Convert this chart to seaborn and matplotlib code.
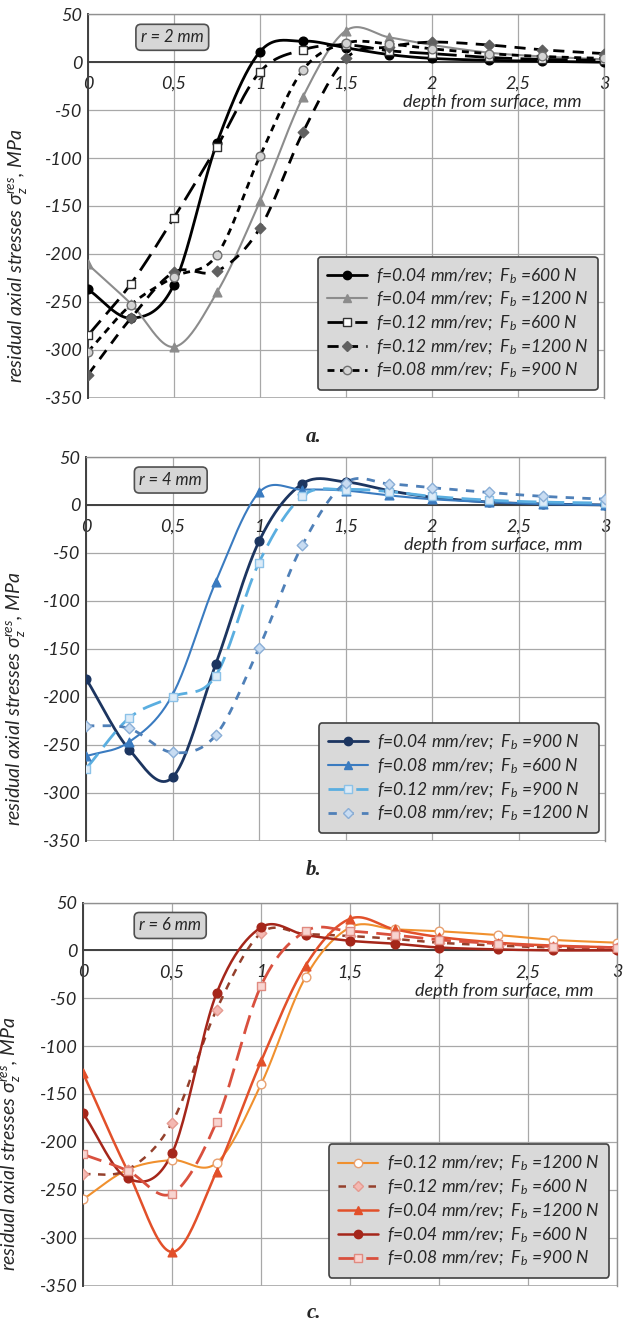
# Residual axial stresses vs depth, three tool radii (r = 2, 4, 6 mm)

import numpy as np
import seaborn as sns
import matplotlib.pyplot as plt
from matplotlib.lines import Line2D

sns.set_theme(style='white')
plt.rcParams['font.family'] = ['Lato', 'DejaVu Sans']
plt.rcParams['font.style'] = 'italic'
plt.rcParams['mathtext.default'] = 'regular'
plt.rcParams['mathtext.fontset'] = 'dejavusans'
plt.rcParams['axes.unicode_minus'] = False

# depth of measurement points, mm
depth = [0, 0.25, 0.5, 0.75, 1.0, 1.25, 1.5, 1.75, 2.0, 2.33, 2.64, 3.0]

# panel a, r = 2 mm
a_f004_600 = [-237, -267, -232, -84, 11, 22, 15, 8, 4, 2, 1, 0]
a_f004_1200 = [-211, -252, -297, -240, -145, -36, 33, 26, 18, 10, 6, 3]
a_f012_600 = [-285, -231, -162, -88, -10, 13, 18, 12, 9, 5, 3, 2]
a_f012_1200 = [-326, -267, -219, -218, -173, -73, 4, 16, 21, 18, 13, 9]
a_f008_900 = [-302, -253, -224, -201, -98, -8, 20, 19, 14, 9, 6, 4]

# panel b, r = 4 mm
b_f004_900 = [-181, -255, -284, -166, -38, 22, 24, 15, 8, 3, 1, 0]
b_f008_600 = [-262, -247, -198, -80, 13, 16, 15, 10, 6, 3, 1, 0]
b_f012_900 = [-275, -222, -200, -178, -60, 9, 16, 14, 9, 5, 3, 2]
b_f008_1200 = [-230, -233, -258, -240, -149, -42, 23, 22, 18, 13, 9, 6]

# panel c, r = 6 mm
c_f012_1200 = [-260, -229, -219, -222, -140, -28, 24, 22, 20, 16, 11, 8]
c_f012_600 = [-234, -229, -180, -62, 18, 17, 15, 12, 8, 5, 3, 2]
c_f004_1200 = [-128, -230, -315, -231, -116, -16, 33, 22, 14, 8, 5, 3]
c_f004_600 = [-170, -238, -212, -45, 24, 16, 10, 7, 3, 1, 0, 0]
c_f008_900 = [-213, -230, -254, -179, -37, 20, 20, 16, 11, 7, 4, 3]


def smooth(x, y, n=24):
    # Catmull-Rom curve through the points, like Excel's smoothed line
    P = np.column_stack([x, y]).astype(float)
    P = np.vstack([2 * P[0] - P[1], P, 2 * P[-1] - P[-2]])
    t = np.linspace(0, 1, n, endpoint=False)[:, None]
    segs = []
    for i in range(1, len(P) - 2):
        p0, p1, p2, p3 = P[i - 1], P[i], P[i + 1], P[i + 2]
        segs.append(0.5 * (2 * p1 + (p2 - p0) * t
                           + (2 * p0 - 5 * p1 + 4 * p2 - p3) * t ** 2
                           + (3 * p1 - p0 - 3 * p2 + p3) * t ** 3))
    segs.append(P[-2][None, :])
    return np.vstack(segs)


def lbl(f, fb):
    return f'f={f} mm/rev;  F$_b$ ={fb} N'


panels = [
    dict(name='a.', r='r = 2 mm', pos=[88, 14.3, 604, 397.7], cap=437,
         leg=(0.988, 0.02), series=[
        (a_f004_600, lbl('0.04', 600), '#000000', '-', 2.0, 'o', '#000000', '#000000', 7),
        (a_f004_1200, lbl('0.04', 1200), '#8c8c8c', '-', 1.5, '^', '#8c8c8c', '#8c8c8c', 7),
        (a_f012_600, lbl('0.12', 600), '#000000', (0, (7, 3)), 2.0, 's', '#ffffff', '#303030', 7),
        (a_f012_1200, lbl('0.12', 1200), '#000000', (0, (4, 3)), 2.0, 'D', '#606060', '#606060', 6),
        (a_f008_900, lbl('0.08', 900), '#000000', (0, (2.5, 2)), 2.0, 'o', '#d4d4d4', '#707070', 7),
    ]),
    dict(name='b.', r='r = 4 mm', pos=[86, 457, 605, 840.7], cap=870,
         leg=(0.988, 0.02), series=[
        (b_f004_900, lbl('0.04', 900), '#1c3560', '-', 2.0, 'o', '#1c3560', '#1c3560', 7),
        (b_f008_600, lbl('0.08', 600), '#3a7bc0', '-', 1.5, '^', '#3a7bc0', '#3a7bc0', 7),
        (b_f012_900, lbl('0.12', 900), '#5aaee0', (0, (7, 3)), 2.0, 's', '#dcebf7', '#8cc2e8', 7),
        (b_f008_1200, lbl('0.08', 1200), '#4f80b8', (0, (3, 3)), 2.0, 'D', '#c8dcf2', '#8aaed6', 6),
    ]),
    dict(name='c.', r='r = 6 mm', pos=[83, 902.5, 617, 1285.5], cap=1313,
         leg=(0.985, 0.02), series=[
        (c_f012_1200, lbl('0.12', 1200), '#f0902e', '-', 1.5, 'o', '#ffffff', '#e8a070', 7),
        (c_f012_600, lbl('0.12', 600), '#94402c', (0, (3, 3)), 1.8, 'D', '#f4b8b2', '#e59a90', 6),
        (c_f004_1200, lbl('0.04', 1200), '#e2502a', '-', 1.8, '^', '#e2502a', '#e2502a', 7),
        (c_f004_600, lbl('0.04', 600), '#a5261a', '-', 1.8, 'o', '#a5261a', '#a5261a', 7),
        (c_f008_900, lbl('0.08', 900), '#d9503e', (0, (7, 3)), 2.0, 's', '#f8d4d0', '#e08a80', 7),
    ]),
]

W, H = 623, 1325
fig = plt.figure(figsize=(W / 100, H / 100), dpi=100)

for p in panels:
    x0, y0, x1, y1 = p['pos']
    ax = fig.add_axes([x0 / W, 1 - y1 / H, (x1 - x0) / W, (y1 - y0) / H])
    handles = []
    for vals, label, col, ls, lw, mk, mfc, mec, ms in p['series']:
        pts = smooth(depth, vals)
        sns.lineplot(x=pts[:, 0], y=pts[:, 1], ax=ax, color=col, linestyle=ls,
                     lw=lw, sort=False, estimator=None, zorder=3)
        sns.scatterplot(x=depth, y=vals, ax=ax, marker=mk, s=ms ** 2 * 0.8,
                        color=mfc, edgecolor=mec, linewidth=1, zorder=4)
        handles.append(Line2D([], [], color=col, linestyle=ls, lw=lw, marker=mk,
                              markerfacecolor=mfc, markeredgecolor=mec, markersize=ms - 1,
                              label=label))

    ax.set_xlim(0, 3)
    ax.set_ylim(-350, 50)
    ax.set_xticks([0, 0.5, 1, 1.5, 2, 2.5, 3])
    ax.set_xticklabels(['0', '0,5', '1', '1,5', '2', '2,5', '3'])
    ax.set_yticks(range(-350, 51, 50))
    ax.grid(True, color='#a8a8a8', lw=0.9)
    ax.axhline(-350, color='#a8a8a8', lw=1.2, zorder=1)
    ax.spines['bottom'].set_position(('data', 0))
    ax.spines['bottom'].set_color('#404040')
    ax.spines['bottom'].set_linewidth(1.4)
    ax.spines['left'].set_color('#404040')
    ax.spines['left'].set_linewidth(1.4)
    for s in ['top', 'right']:
        ax.spines[s].set_color('#909090')
        ax.spines[s].set_linewidth(1.0)
    ax.tick_params(axis='x', length=0, pad=10, labelsize=13)
    ax.tick_params(axis='y', length=0, pad=4, labelsize=13)
    ax.set_xlabel('')
    ax.text(2.87, -42, 'depth from surface, mm', ha='right', va='center', fontsize=13)
    ax.set_ylabel(r'residual axial stresses $\sigma_z^{res}$, MPa', fontsize=14)
    ax.yaxis.set_label_coords(-0.112, 0.37)
    ax.text(0.49, 26, p['r'], ha='center', va='center', fontsize=12,
            bbox=dict(boxstyle='round,pad=0.3', fc='#d6d6d6', ec='#505050', lw=1.2))
    leg = ax.legend(handles=handles, loc='lower right', bbox_to_anchor=p['leg'],
                    borderaxespad=0, fontsize=12.5, handlelength=2.3, labelspacing=0.25,
                    borderpad=0.55, handletextpad=0.5, fancybox=True, framealpha=1)
    leg.get_frame().set_facecolor('#d9d9d9')
    leg.get_frame().set_edgecolor('#404040')
    leg.get_frame().set_linewidth(1.2)
    leg.set_zorder(10)

    fig.text(0.5 + 2 / W, 1 - p['cap'] / H, p['name'], ha='center', va='center',
             fontsize=15, family='Liberation Serif', weight='bold', style='italic')

fig.savefig('out.png', dpi=100)
